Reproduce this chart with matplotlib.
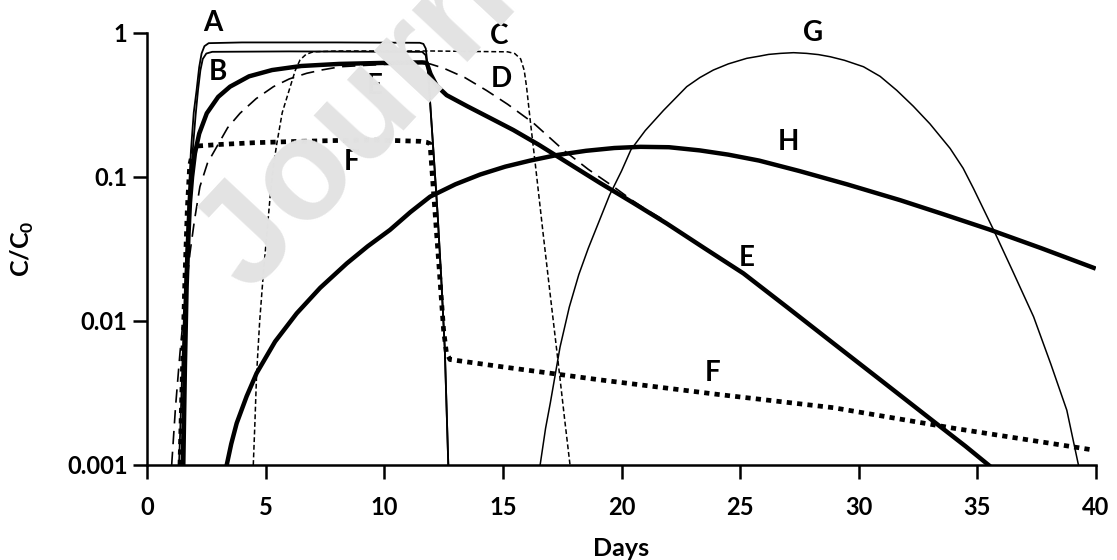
import matplotlib
matplotlib.use("Agg")
import matplotlib.pyplot as plt

plt.rcParams['font.family'] = ['Lato', 'DejaVu Sans']
plt.rcParams['mathtext.fontset'] = 'custom'
plt.rcParams['mathtext.rm'] = 'Lato'
plt.rcParams['mathtext.bf'] = 'Lato:bold'

# ---- data (day, C/C0) ----
a_days = [1.35, 1.45, 1.55, 1.65, 1.75, 1.85, 1.97, 2.09, 2.2, 2.3, 2.42, 2.6, 4, 8, 11.5, 11.65, 11.75, 11.85, 11.95, 12.1, 12.25, 12.4, 12.55, 12.7]
a_vals = [0.001, 0.003, 0.01, 0.03, 0.07, 0.15, 0.28, 0.40, 0.58, 0.72, 0.81, 0.85, 0.86, 0.86, 0.855, 0.84, 0.78, 0.55, 0.30, 0.13, 0.055, 0.02, 0.0065, 0.001]

b_days = [1.45, 1.55, 1.65, 1.75, 1.85, 1.95, 2.05, 2.15, 2.25, 2.35, 2.5, 2.75, 6, 11.6, 11.75, 11.85, 11.95, 12.1, 12.25, 12.4, 12.55, 12.7]
b_vals = [0.001, 0.004, 0.015, 0.045, 0.10, 0.17, 0.27, 0.40, 0.55, 0.66, 0.72, 0.74, 0.745, 0.74, 0.70, 0.52, 0.30, 0.13, 0.055, 0.02, 0.0065, 0.001]

c_days = [4.48, 4.55, 4.62, 4.75, 4.9, 5.05, 5.19, 5.33, 5.47, 5.7, 6.03, 6.25, 6.45, 6.7, 7.0, 8, 12, 15.2, 15.5, 15.75, 15.9, 16.0, 16.15, 16.4, 16.7, 17.0, 17.34, 17.6, 17.83]
c_vals = [0.001, 0.002, 0.0043, 0.01, 0.021, 0.04, 0.073, 0.12, 0.17, 0.28, 0.42, 0.55, 0.65, 0.71, 0.74, 0.75, 0.75, 0.74, 0.72, 0.66, 0.55, 0.42, 0.25, 0.11, 0.04, 0.015, 0.005, 0.0021, 0.001]

d_days = [1.04, 1.2, 1.39, 1.6, 1.81, 2.0, 2.23, 2.55, 2.94, 3.4, 3.92, 4.6, 5.33, 6.0, 6.73, 7.4, 8.14, 9.12, 10, 11, 11.6, 11.93, 12.5, 13.4, 14.3, 15.2, 16.3, 17.55, 18.6, 19.66, 20.5, 21.0, 21.9]
d_vals = [0.001, 0.0025, 0.006, 0.014, 0.0295, 0.05, 0.0857, 0.125, 0.162, 0.22, 0.277, 0.35, 0.424, 0.48, 0.525, 0.555, 0.583, 0.595, 0.605, 0.61, 0.612, 0.61, 0.57, 0.49, 0.40, 0.32, 0.236, 0.154, 0.113, 0.0857, 0.068, 0.060, 0.049]

e_days = [1.53, 1.6, 1.67, 1.75, 1.81, 1.9, 2.02, 2.2, 2.52, 3.0, 3.5, 4.3, 5.27, 6.5, 8.1, 10, 11.6, 11.79, 11.95, 12.21, 12.63, 13.5, 14.5, 15.44, 16.5, 17.55, 19.1, 20.5, 21.9, 23.5, 25.14, 27, 28.93, 31, 33.15, 34.5, 35.47]
e_vals = [0.001, 0.005, 0.0173, 0.04, 0.066, 0.10, 0.146, 0.20, 0.277, 0.36, 0.424, 0.50, 0.553, 0.59, 0.61, 0.62, 0.625, 0.62, 0.52, 0.43, 0.37, 0.31, 0.255, 0.212, 0.168, 0.131, 0.0908, 0.066, 0.0476, 0.032, 0.0214, 0.0124, 0.0070, 0.0038, 0.00201, 0.00135, 0.001]

f_days = [1.39, 1.5, 1.6, 1.7, 1.8, 1.95, 2.09, 3, 4.5, 6.5, 8.5, 10, 11.5, 11.8, 11.93, 12.1, 12.3, 12.5, 12.62, 12.77, 15, 19.1, 24, 28.93, 34, 39.9]
f_vals = [0.001, 0.005, 0.02, 0.06, 0.12, 0.155, 0.164, 0.168, 0.173, 0.177, 0.18, 0.18, 0.177, 0.174, 0.17, 0.07, 0.025, 0.0087, 0.006, 0.0054, 0.0048, 0.0039, 0.0031, 0.0025, 0.0018, 0.00127]

g_days = [16.57, 16.8, 17.0, 17.41, 17.8, 18.2, 18.6, 18.96, 19.5, 20.0, 20.4, 21.0, 21.77, 22.75, 23.3, 23.87, 24.5, 25.28, 25.8, 26.2, 26.7, 27.25, 27.8, 28.3, 28.8, 29.4, 30.2, 30.9, 31.6, 32.3, 33.0, 33.85, 34.4, 34.84, 35.68, 36.5, 37.37, 38.1, 38.77, 39.26]
g_vals = [0.001, 0.0018, 0.0027, 0.0066, 0.0125, 0.021, 0.032, 0.045, 0.075, 0.11, 0.155, 0.21, 0.29, 0.424, 0.49, 0.553, 0.61, 0.667, 0.69, 0.71, 0.722, 0.73, 0.722, 0.708, 0.684, 0.646, 0.583, 0.50, 0.40, 0.31, 0.234, 0.158, 0.115, 0.083, 0.043, 0.022, 0.0107, 0.005, 0.0024, 0.001]

h_days = [3.36, 3.55, 3.78, 4.2, 4.62, 5.4, 6.31, 7.3, 8.42, 9.3, 10.24, 11.1, 11.93, 13, 14.04, 15.1, 16.15, 17.27, 18.5, 19.7, 20.8, 22, 23.3, 24.5, 25.8, 27.5, 29.5, 31.75, 33.5, 35.5, 37.7, 39.9]
h_vals = [0.001, 0.0014, 0.00195, 0.003, 0.00434, 0.0072, 0.0113, 0.017, 0.0251, 0.033, 0.0429, 0.057, 0.073, 0.089, 0.104, 0.118, 0.13, 0.142, 0.152, 0.159, 0.162, 0.161, 0.153, 0.143, 0.13, 0.11, 0.089, 0.069, 0.0556, 0.0432, 0.032, 0.0234]

curve_labels = ['A', 'B', 'C', 'D', 'E', 'E', 'F', 'F', 'G', 'H']
label_days = [2.76, 2.97, 14.84, 14.92, 9.61, 25.27, 8.62, 23.84, 28.08, 27.02]
label_vals = [1.17, 0.536, 0.953, 0.48, 0.428, 0.0276, 0.127, 0.00435, 1.0, 0.174]

x_ticks = [0, 5, 10, 15, 20, 25, 30, 35, 40]
y_ticks = [0.001, 0.01, 0.1, 1]
y_tick_labels = ['0.001', '0.01', '0.1', '1']

# ---- figure ----
W, H = 1117, 560
fig = plt.figure(figsize=(W / 100, H / 100), dpi=100)
ax = fig.add_axes([147 / W, (H - 465) / H, (1096 - 147) / W, (465 - 33) / H])
ax.set_yscale('log')

k = 'black'
ax.plot(a_days, a_vals, color=k, lw=1.3, solid_joinstyle='round')
ax.plot(b_days, b_vals, color=k, lw=1.3, solid_joinstyle='round')
ax.plot(c_days, c_vals, color=k, lw=1.1, linestyle=(0, (3.2, 1.8)))
ax.plot(d_days, d_vals, color=k, lw=1.2, linestyle=(0, (8, 4.5)))
ax.plot(e_days, e_vals, color=k, lw=3.2, solid_joinstyle='round')
ax.plot(f_days, f_vals, color=k, lw=3.4, linestyle=(0, (1.1, 1.1)))
ax.plot(g_days, g_vals, color=k, lw=1.1, solid_joinstyle='round')
ax.plot(h_days, h_vals, color=k, lw=3.2, solid_joinstyle='round')

for t, xd, yv in zip(curve_labels, label_days, label_vals):
    ax.text(xd, yv, t, ha='center', va='center', fontsize=20, fontweight='bold',
            clip_on=False)

ax.set_xlim(0, 40)
ax.set_ylim(0.001, 1)
ax.set_xticks(x_ticks)
ax.set_xticklabels([str(v) for v in x_ticks])
ax.set_yticks(y_ticks)
ax.set_yticklabels(y_tick_labels)
ax.yaxis.set_minor_locator(matplotlib.ticker.NullLocator())
for s in ['top', 'right']:
    ax.spines[s].set_visible(False)
for s in ['left', 'bottom']:
    ax.spines[s].set_linewidth(1.8)
ax.tick_params(axis='both', which='major', length=10, width=1.8, direction='out',
               labelsize=17)
ax.tick_params(axis='x', pad=12)
ax.tick_params(axis='y', pad=4)
for lab in ax.get_xticklabels() + ax.get_yticklabels():
    lab.set_fontweight('bold')

ax.set_xlabel('Days', fontsize=18, fontweight='bold', labelpad=13)
ax.set_ylabel(r'C/C$_\mathbf{0}$', fontsize=18, fontweight='bold', labelpad=22)

# watermark
fig.text(250 / W, 1 - 296 / H, 'Journal Pre-proof', fontsize=103, fontweight='bold',
         family='Liberation Sans', color='#e3e3e3', rotation=47,
         rotation_mode='anchor', ha='left', va='baseline', zorder=10)

fig.savefig('out.png', dpi=100)
